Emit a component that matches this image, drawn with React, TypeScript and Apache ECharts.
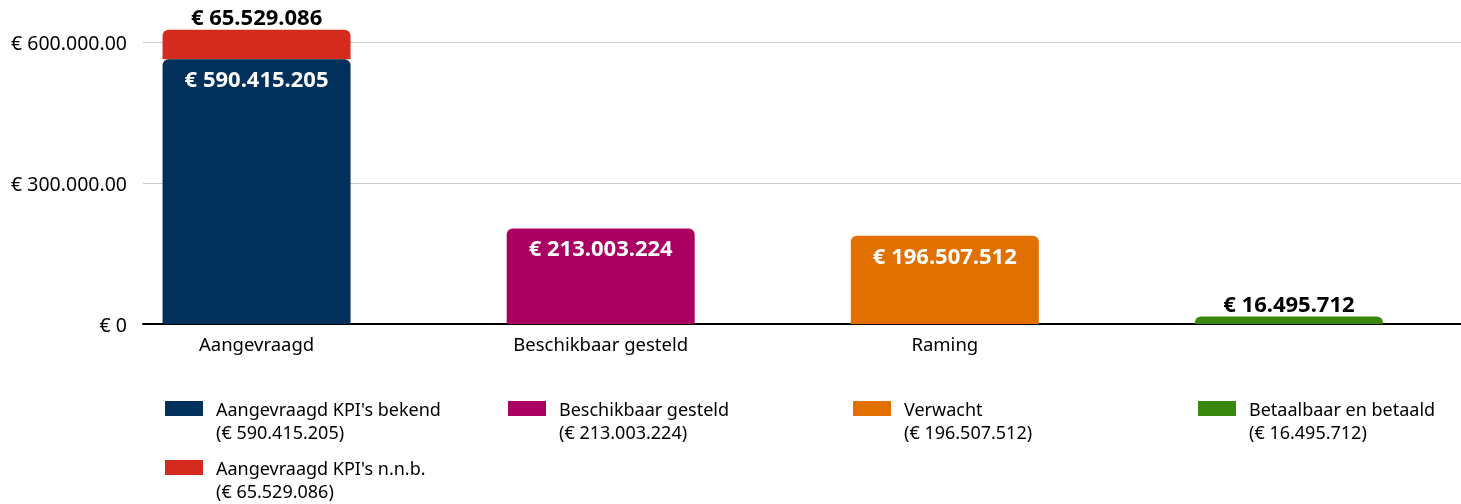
import React, { useEffect, useRef } from "react";
import * as echarts from "echarts";

const categories = ["Aangevraagd", "Beschikbaar gesteld", "Raming", ""];
const yTickLabels = ["€ 0", "€ 300.000.00", "€ 600.000.00"];

const kpiBekend = [590415205, null, null, null];
const kpiNnb = [65529086, null, null, null];
const beschikbaar = [null, 213003224, null, null];
const verwacht = [null, null, 196507512, null];
const betaald = [null, null, null, 16495712];

const seriesNames = [
  "Aangevraagd KPI's bekend",
  "Beschikbaar gesteld",
  "Verwacht",
  "Betaalbaar en betaald",
  "Aangevraagd KPI's n.n.b.",
];
const seriesTotals = [590415205, 213003224, 196507512, 16495712, 65529086];

const colors = {
  navy: "#01305a",
  red: "#d52b1e",
  violet: "#a90061",
  orange: "#e17000",
  green: "#39870c",
};

const FONT = "Noto Sans";

function fmt(n: number): string {
  return "€ " + String(n).replace(/\B(?=(\d{3})+(?!\d))/g, ".");
}

export default function App() {
  const ref = useRef<HTMLDivElement>(null);

  useEffect(() => {
    if (!ref.current) return;
    const chart = echarts.init(ref.current, null, { renderer: "svg" });

    const insideLabel = {
      show: true,
      position: "insideTop",
      distance: 8,
      color: "#ffffff",
      fontWeight: "bold",
      fontSize: 22,
      fontFamily: FONT,
      formatter: (p: any) => fmt(p.value),
    };
    const topLabel = {
      show: true,
      position: "top",
      distance: 3,
      color: "#000000",
      fontWeight: "bold",
      fontSize: 22,
      fontFamily: FONT,
      formatter: (p: any) => fmt(p.value),
    };
    const common = {
      type: "bar",
      xAxisIndex: 1,
      yAxisIndex: 1,
      barWidth: 188,
      barGap: "-100%",
    };

    const legendLefts = [165, 508, 853, 1198, 165];
    const legendTops = [374, 374, 374, 374, 433];

    const legends = seriesNames.map((name, i) => ({
      show: true,
      left: legendLefts[i],
      top: legendTops[i],
      padding: 0,
      itemWidth: 38,
      itemHeight: 15,
      icon: "rect",
      selectedMode: false,
      data: [name],
      formatter: () => `\n${name}\n(${fmt(seriesTotals[i])})`,
      textStyle: {
        fontFamily: FONT,
        fontSize: 18,
        lineHeight: 23,
        color: "#000000",
        padding: [0, 0, 0, 8],
      },
    }));

    chart.setOption({
      animation: false,
      textStyle: { fontFamily: FONT },
      grid: [
        { left: 143, right: 0, top: 42, bottom: 180 },
        { left: 84.5, width: 1380, top: 10, bottom: 180 },
      ],
      legend: legends,
      xAxis: [
        {
          type: "category",
          gridIndex: 0,
          data: [""],
          axisLine: { show: true, lineStyle: { color: "#000000", width: 2 } },
          axisTick: { show: false },
          axisLabel: { show: false },
        },
        {
          type: "category",
          gridIndex: 1,
          data: categories,
          axisLine: { show: false },
          axisTick: { show: false },
          axisLabel: {
            margin: 10,
            fontSize: 18.5,
            color: "#000000",
            fontFamily: FONT,
          },
        },
      ],
      yAxis: [
        {
          type: "value",
          gridIndex: 0,
          min: 0,
          max: 600000000,
          interval: 300000000,
          axisLine: { show: false },
          axisTick: { show: false },
          splitLine: { show: true, lineStyle: { color: "#cccccc", width: 1 } },
          axisLabel: {
            margin: 16,
            fontSize: 19.5,
            color: "#000000",
            fontFamily: FONT,
            formatter: (_v: number, idx: number) => yTickLabels[idx] ?? "",
          },
        },
        {
          type: "value",
          gridIndex: 1,
          min: 0,
          max: 700000000,
          show: false,
          splitLine: { show: false },
        },
      ],
      series: [
        {
          ...common,
          name: seriesNames[0],
          stack: "aangevraagd",
          data: kpiBekend,
          itemStyle: { color: colors.navy, borderRadius: [6, 6, 0, 0] },
          label: insideLabel,
        },
        {
          ...common,
          name: seriesNames[4],
          stack: "aangevraagd",
          data: kpiNnb,
          itemStyle: { color: colors.red, borderRadius: [6, 6, 0, 0] },
          label: topLabel,
          z: 1,
        },
        {
          ...common,
          name: seriesNames[1],
          data: beschikbaar,
          itemStyle: { color: colors.violet, borderRadius: [6, 6, 0, 0] },
          label: insideLabel,
        },
        {
          ...common,
          name: seriesNames[2],
          data: verwacht,
          itemStyle: { color: colors.orange, borderRadius: [6, 6, 0, 0] },
          label: insideLabel,
        },
        {
          ...common,
          name: seriesNames[3],
          data: betaald,
          itemStyle: { color: colors.green, borderRadius: [6, 6, 0, 0] },
          label: topLabel,
        },
      ],
    });

    return () => chart.dispose();
  }, []);

  return (
    <div
      ref={ref}
      style={{ position: "fixed", left: 0, top: 0, width: 1461, height: 504 }}
    />
  );
}
